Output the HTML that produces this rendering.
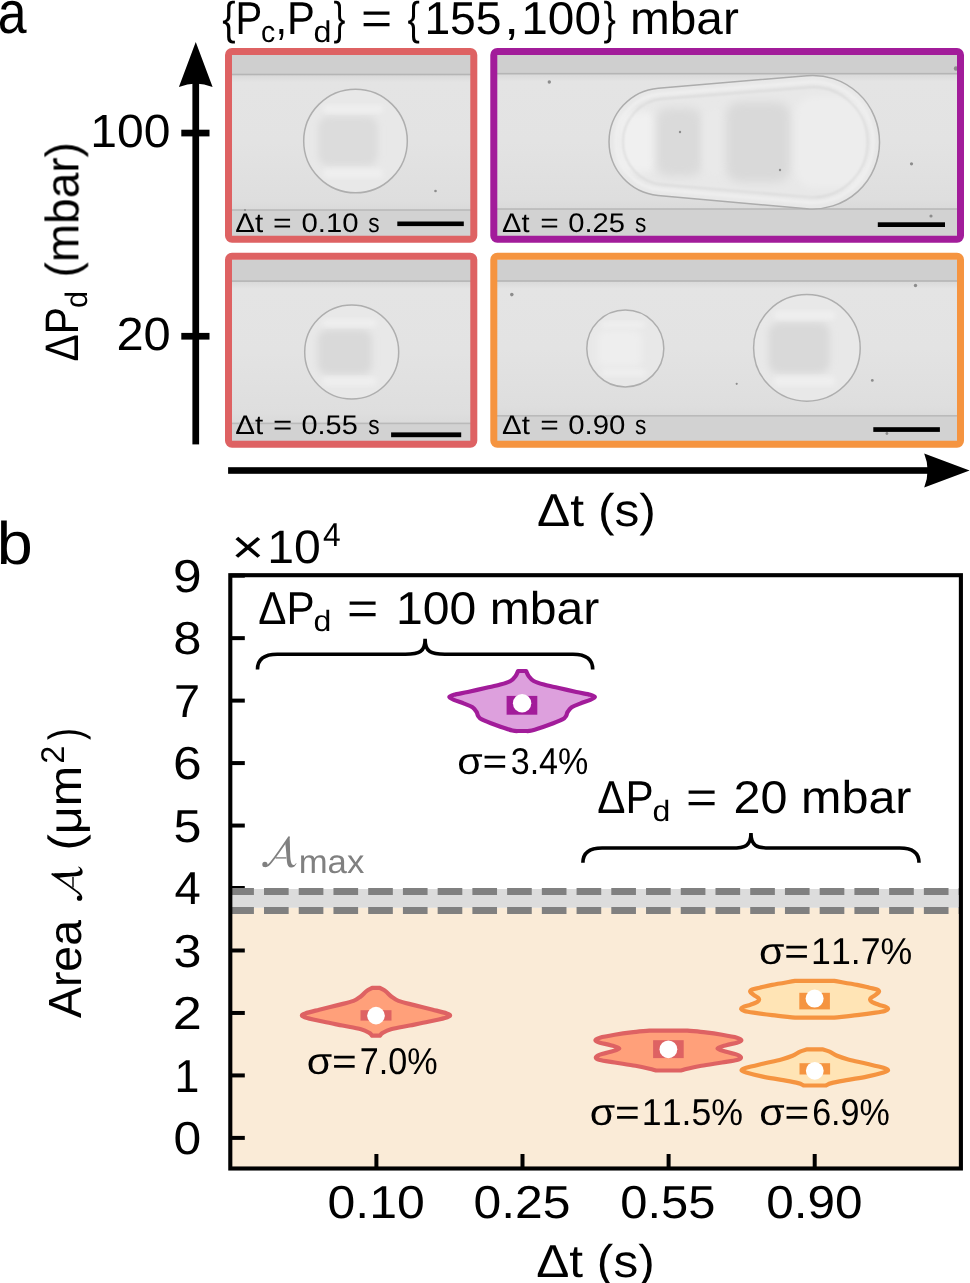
<!DOCTYPE html>
<html><head><meta charset="utf-8"><style>
html,body{margin:0;padding:0;background:#fff;}
svg{display:block;}
text{font-family:"Liberation Sans", sans-serif;-webkit-font-smoothing:antialiased;font-kerning:none;font-variant-ligatures:none;text-rendering:geometricPrecision;}
</style></head><body>
<svg width="970" height="1283" viewBox="0 0 970 1283">
<defs>
<filter id="blur2" x="-20%" y="-20%" width="140%" height="140%"><feGaussianBlur stdDeviation="2.5"/></filter>
<g id="calA">
<path stroke="none" d="M289.3,836.2 C289.9,838 290,845 290.1,852 C290.2,858 290.6,862.5 292.3,864.6 C293.6,865.6 295.2,864.6 296.1,862.9 L296.5,863.4 C295.6,865.6 293.6,867.6 291.2,867.6 C288.6,867.6 287.3,865.4 287,862 C286.6,857 286.0,848 285.2,843.8 Z"/>
<path fill="none" stroke-width="1.8" stroke-linecap="round" d="M288.9,837.2 C283,846 276,856 271.5,861.8 C269.5,864.6 267.5,866.3 265.3,866.3"/>
<circle stroke="none" cx="264.9" cy="864.4" r="2.6"/>
<path fill="none" stroke-width="1.4" d="M275.6,857.9 L286.4,857.9"/>
</g>
<filter id="blur6" x="-50%" y="-50%" width="200%" height="200%"><feGaussianBlur stdDeviation="6"/></filter>
<filter id="gs" x="0" y="0" width="100%" height="100%" filterUnits="userSpaceOnUse"><feColorMatrix type="saturate" values="0"/></filter>
<filter id="blur3" x="-30%" y="-30%" width="160%" height="160%"><feGaussianBlur stdDeviation="3.5"/></filter>
<filter id="blur05" x="-100%" y="-100%" width="300%" height="300%"><feGaussianBlur stdDeviation="0.5"/></filter>
<filter id="blur5" x="-50%" y="-50%" width="200%" height="200%"><feGaussianBlur stdDeviation="5"/></filter>
<filter id="blur1" x="-20%" y="-20%" width="140%" height="140%"><feGaussianBlur stdDeviation="1"/></filter>
</defs>
<rect width="970" height="1283" fill="#fff"/>
<clipPath id="c1"><rect x="232" y="55" width="239" height="181"/></clipPath>
<linearGradient id="g1" x1="0" y1="74.5" x2="0" y2="210" gradientUnits="userSpaceOnUse"><stop offset="0" stop-color="#D9D9D9"/><stop offset="0.059" stop-color="#E4E4E4"/><stop offset="0.5" stop-color="#E3E3E3"/><stop offset="0.93" stop-color="#DEDEDE"/><stop offset="1" stop-color="#DADADA"/></linearGradient>
<g clip-path="url(#c1)">
<rect x="232" y="55" width="239" height="181" fill="url(#g1)"/>
<rect x="232" y="55" width="239" height="19.5" fill="#CFCFCF"/>
<rect x="232" y="210" width="239" height="26" fill="#D2D2D2"/>
<rect x="232" y="73.7" width="239" height="1.6" fill="#B5B5B5"/>
<rect x="232" y="209.2" width="239" height="1.6" fill="#BABABA"/>
<circle cx="355.5" cy="141" r="51.8" fill="#E8E8E8" stroke="#AEAEAE" stroke-width="1.5"/>
<rect x="318.2" y="116.4" width="59.6" height="49.2" rx="10.4" fill="#DCDCDC" filter="url(#blur3)"/>
<rect x="323.4" y="105.0" width="59.6" height="8.3" rx="4.1" fill="#EFEFEF" filter="url(#blur2)"/>
<rect x="323.4" y="168.7" width="59.6" height="9.3" rx="4.1" fill="#EFEFEF" filter="url(#blur2)"/>
</g>
<clipPath id="c2"><rect x="497" y="55" width="460.5" height="181"/></clipPath>
<linearGradient id="g2" x1="0" y1="73.7" x2="0" y2="209" gradientUnits="userSpaceOnUse"><stop offset="0" stop-color="#D9D9D9"/><stop offset="0.059" stop-color="#E4E4E4"/><stop offset="0.5" stop-color="#E3E3E3"/><stop offset="0.93" stop-color="#DEDEDE"/><stop offset="1" stop-color="#DADADA"/></linearGradient>
<g clip-path="url(#c2)">
<rect x="497" y="55" width="460.5" height="181" fill="url(#g2)"/>
<rect x="497" y="55" width="460.5" height="18.700000000000003" fill="#CFCFCF"/>
<rect x="497" y="209" width="460.5" height="27" fill="#D2D2D2"/>
<rect x="497" y="72.9" width="460.5" height="1.6" fill="#B5B5B5"/>
<rect x="497" y="208.2" width="460.5" height="1.6" fill="#BABABA"/>
<path d="M658.28,88.19 L807.08,75.64 A66.8,66.8 0 1 1 806.73,208.73 L657.99,195.38 A53.8,53.8 0 0 1 658.28,88.19 Z" fill="#E8E8E8" stroke="#ACACAC" stroke-width="1.5"/>
<clipPath id="slugclip"><path d="M658.28,88.19 L807.08,75.64 A66.8,66.8 0 1 1 806.73,208.73 L657.99,195.38 A53.8,53.8 0 0 1 658.28,88.19 Z"/></clipPath>
<g clip-path="url(#slugclip)">
<rect x="618" y="112" width="40" height="60" rx="12" fill="#F0F0F0" filter="url(#blur3)"/>
<rect x="656" y="108" width="46" height="68" rx="12" fill="#DADADA" filter="url(#blur5)"/>
<rect x="704" y="110" width="22" height="64" rx="8" fill="#E9E9E9" filter="url(#blur3)"/>
<rect x="726" y="102" width="64" height="80" rx="14" fill="#D9D9D9" filter="url(#blur5)"/>
<rect x="795" y="96" width="72" height="92" rx="20" fill="#EDEDED" filter="url(#blur3)"/>
<path d="M660.09,93.96 L807.78,81.90 A60.5,60.5 0 1 1 807.45,202.47 L659.84,189.62 A48,48 0 0 1 660.09,93.96 Z" fill="none" stroke="#EFEFEF" stroke-width="3" filter="url(#blur1)"/>
<path d="M662.60,98.93 L808.35,87.37 A55,55 0 1 1 808.05,197.00 L662.37,184.65 A43,43 0 0 1 662.60,98.93 Z" fill="none" stroke="#D3D3D3" stroke-width="1.2" filter="url(#blur1)"/>
</g>
</g>
<clipPath id="c3"><rect x="232" y="259.5" width="239" height="181.5"/></clipPath>
<linearGradient id="g3" x1="0" y1="281.1" x2="0" y2="423.4" gradientUnits="userSpaceOnUse"><stop offset="0" stop-color="#D9D9D9"/><stop offset="0.056" stop-color="#E4E4E4"/><stop offset="0.5" stop-color="#E3E3E3"/><stop offset="0.93" stop-color="#DEDEDE"/><stop offset="1" stop-color="#DADADA"/></linearGradient>
<g clip-path="url(#c3)">
<rect x="232" y="259.5" width="239" height="181.5" fill="url(#g3)"/>
<rect x="232" y="259.5" width="239" height="21.600000000000023" fill="#CFCFCF"/>
<rect x="232" y="423.4" width="239" height="17.600000000000023" fill="#D2D2D2"/>
<rect x="232" y="280.3" width="239" height="1.6" fill="#B5B5B5"/>
<rect x="232" y="422.59999999999997" width="239" height="1.6" fill="#BABABA"/>
<circle cx="351.7" cy="352" r="47" fill="#E8E8E8" stroke="#AEAEAE" stroke-width="1.5"/>
<rect x="317.9" y="329.7" width="54.0" height="44.6" rx="9.4" fill="#D9D9D9" filter="url(#blur3)"/>
<rect x="322.6" y="319.3" width="54.0" height="7.5" rx="3.8" fill="#EFEFEF" filter="url(#blur2)"/>
<rect x="322.6" y="377.1" width="54.0" height="8.5" rx="3.8" fill="#EFEFEF" filter="url(#blur2)"/>
</g>
<clipPath id="c4"><rect x="497" y="259.5" width="460.5" height="181.5"/></clipPath>
<linearGradient id="g4" x1="0" y1="281" x2="0" y2="415.8" gradientUnits="userSpaceOnUse"><stop offset="0" stop-color="#D9D9D9"/><stop offset="0.059" stop-color="#E4E4E4"/><stop offset="0.5" stop-color="#E3E3E3"/><stop offset="0.93" stop-color="#DEDEDE"/><stop offset="1" stop-color="#DADADA"/></linearGradient>
<g clip-path="url(#c4)">
<rect x="497" y="259.5" width="460.5" height="181.5" fill="url(#g4)"/>
<rect x="497" y="259.5" width="460.5" height="21.5" fill="#CFCFCF"/>
<rect x="497" y="415.8" width="460.5" height="25.19999999999999" fill="#D2D2D2"/>
<rect x="497" y="280.2" width="460.5" height="1.6" fill="#B5B5B5"/>
<rect x="497" y="415.0" width="460.5" height="1.6" fill="#BABABA"/>
<circle cx="625.3" cy="348.4" r="38.5" fill="#E8E8E8" stroke="#AEAEAE" stroke-width="1.5"/>
<rect x="597.6" y="330.1" width="44.3" height="36.6" rx="7.7" fill="#EEEEEE" filter="url(#blur3)"/>
<rect x="601.4" y="321.6" width="44.3" height="6.2" rx="3.1" fill="#EFEFEF" filter="url(#blur2)"/>
<rect x="601.4" y="369.0" width="44.3" height="6.9" rx="3.1" fill="#EFEFEF" filter="url(#blur2)"/>
<circle cx="806.9" cy="347.9" r="53.3" fill="#E8E8E8" stroke="#AEAEAE" stroke-width="1.5"/>
<rect x="768.5" y="322.6" width="61.3" height="50.6" rx="10.7" fill="#D9D9D9" filter="url(#blur3)"/>
<rect x="773.9" y="310.9" width="61.3" height="8.5" rx="4.3" fill="#EFEFEF" filter="url(#blur2)"/>
<rect x="773.9" y="376.4" width="61.3" height="9.6" rx="4.3" fill="#EFEFEF" filter="url(#blur2)"/>
</g>
<circle cx="549.3" cy="82.0" r="1.7" fill="#8C8C8C" filter="url(#blur05)"/>
<circle cx="956" cy="68.5" r="2.2" fill="#8C8C8C" filter="url(#blur05)"/>
<circle cx="911.5" cy="163.8" r="1.6" fill="#8C8C8C" filter="url(#blur05)"/>
<circle cx="931" cy="216" r="1.6" fill="#8C8C8C" filter="url(#blur05)"/>
<circle cx="680" cy="132" r="1.2" fill="#8C8C8C" filter="url(#blur05)"/>
<circle cx="780" cy="170" r="1.2" fill="#8C8C8C" filter="url(#blur05)"/>
<circle cx="511.8" cy="294.6" r="1.8" fill="#8C8C8C" filter="url(#blur05)"/>
<circle cx="915.5" cy="285.5" r="1.7" fill="#8C8C8C" filter="url(#blur05)"/>
<circle cx="872.3" cy="380.4" r="1.4" fill="#8C8C8C" filter="url(#blur05)"/>
<circle cx="736.7" cy="383.8" r="1.1" fill="#8C8C8C" filter="url(#blur05)"/>
<circle cx="886.9" cy="433.5" r="1.4" fill="#8C8C8C" filter="url(#blur05)"/>
<circle cx="435.5" cy="191" r="1.3" fill="#8C8C8C" filter="url(#blur05)"/>
<circle cx="245" cy="210" r="1.0" fill="#8C8C8C" filter="url(#blur05)"/>
<rect x="228.5" y="51.5" width="245.30" height="187.70" rx="3.5" fill="none" stroke="#DE6263" stroke-width="7"/>
<rect x="493.8" y="51.5" width="466.70" height="187.70" rx="3.5" fill="none" stroke="#A21C9A" stroke-width="7"/>
<rect x="228.5" y="256.3" width="245.30" height="187.90" rx="3.5" fill="none" stroke="#DE6263" stroke-width="7"/>
<rect x="493.8" y="256.3" width="466.70" height="187.90" rx="3.5" fill="none" stroke="#F59440" stroke-width="7"/>
<rect x="397.3" y="221.5" width="66.5" height="4.6" fill="#000"/>
<rect x="877.8" y="222.3" width="67.2" height="4.7" fill="#000"/>
<rect x="391.1" y="432.4" width="70.1" height="4.8" fill="#000"/>
<rect x="873.3" y="427.2" width="66.6" height="4.7" fill="#000"/>
<rect x="192.4" y="80" width="6.7" height="364.4" fill="#000"/>
<path d="M195.75,42 L212.6,87 Q195.75,80 178.9,87 Z" fill="#000"/>
<rect x="181.3" y="129.7" width="28.2" height="6.7" fill="#000"/>
<rect x="181.3" y="332.9" width="28.2" height="6.7" fill="#000"/>
<rect x="228.1" y="467.2" width="700" height="6.6" fill="#000"/>
<path d="M969.6,470.5 L924.2,453.6 Q931,470.5 924.2,487.4 Z" fill="#000"/>
<rect x="230.3" y="907.8" width="730.5999999999999" height="260.70000000000005" fill="#FAEBD7"/>
<rect x="230.3" y="889" width="730.5999999999999" height="18.8" fill="#DCDCDC"/>
<line x1="230.3" y1="1137.90" x2="244.8" y2="1137.90" stroke="#000" stroke-width="4"/>
<line x1="230.3" y1="1075.43" x2="244.8" y2="1075.43" stroke="#000" stroke-width="4"/>
<line x1="230.3" y1="1012.96" x2="244.8" y2="1012.96" stroke="#000" stroke-width="4"/>
<line x1="230.3" y1="950.49" x2="244.8" y2="950.49" stroke="#000" stroke-width="4"/>
<line x1="230.3" y1="888.02" x2="244.8" y2="888.02" stroke="#000" stroke-width="4"/>
<line x1="230.3" y1="825.55" x2="244.8" y2="825.55" stroke="#000" stroke-width="4"/>
<line x1="230.3" y1="763.08" x2="244.8" y2="763.08" stroke="#000" stroke-width="4"/>
<line x1="230.3" y1="700.61" x2="244.8" y2="700.61" stroke="#000" stroke-width="4"/>
<line x1="230.3" y1="638.14" x2="244.8" y2="638.14" stroke="#000" stroke-width="4"/>
<line x1="230.3" y1="575.67" x2="244.8" y2="575.67" stroke="#000" stroke-width="4"/>
<line x1="376.40" y1="1168.5" x2="376.40" y2="1154.0" stroke="#000" stroke-width="4"/>
<line x1="522.50" y1="1168.5" x2="522.50" y2="1154.0" stroke="#000" stroke-width="4"/>
<line x1="668.60" y1="1168.5" x2="668.60" y2="1154.0" stroke="#000" stroke-width="4"/>
<line x1="814.70" y1="1168.5" x2="814.70" y2="1154.0" stroke="#000" stroke-width="4"/>
<line x1="229.27" y1="891.4" x2="960.9" y2="891.4" stroke="#808080" stroke-width="7" stroke-dasharray="24.65 10.08"/>
<line x1="229.27" y1="910.4" x2="960.9" y2="910.4" stroke="#808080" stroke-width="7" stroke-dasharray="24.65 10.08"/>
<rect x="230.3" y="575.2" width="730.5999999999999" height="593.3" fill="none" stroke="#000" stroke-width="4.1"/>
<path d="M257.5,669.5 C257.5,658.86 265.1,654.3 277.26000000000005,654.3 L405.34,654.3 C419.02,654.3 425.1,652.3 425.1,638.7 C425.1,652.3 431.18000000000006,654.3 444.86000000000007,654.3 L572.9399999999999,654.3 C585.1,654.3 592.7,658.86 592.7,669.5" fill="none" stroke="#000" stroke-width="3.6"/>
<path d="M582.9,862.8 C582.9,852.4399999999999 590.3,848.0 602.1399999999999,848.0 L731.7100000000002,848.0 C745.0300000000001,848.0 750.95,846.0 750.95,833.1 C750.95,846.0 756.87,848.0 770.1899999999999,848.0 L899.7600000000001,848.0 C911.6,848.0 919.0,852.4399999999999 919.0,862.8" fill="none" stroke="#000" stroke-width="3.6"/>
<path d="M518.10,671.00 C517.27,672.67 516.87,674.33 515.60,676.00 C514.33,677.67 513.05,679.57 510.50,681.00 C507.95,682.43 504.32,683.47 500.30,684.60 C496.28,685.73 491.82,686.57 486.40,687.80 C480.98,689.03 473.22,690.83 467.80,692.00 C462.38,693.17 456.98,693.95 453.90,694.80 C450.82,695.65 449.30,696.25 449.30,697.10 C449.30,697.95 451.43,698.82 453.90,699.90 C456.37,700.98 461.00,702.37 464.10,703.60 C467.20,704.83 470.42,705.90 472.50,707.30 C474.58,708.70 475.68,710.60 476.60,712.00 C477.52,713.40 477.13,714.47 478.00,715.70 C478.87,716.93 478.85,717.85 481.80,719.40 C484.75,720.95 490.60,723.15 495.70,725.00 C500.80,726.85 508.33,729.50 512.40,730.50 C516.47,731.50 517.53,730.83 520.10,731.00 L524.10,731.00 C526.67,730.83 527.73,731.50 531.80,730.50 C535.87,729.50 543.40,726.85 548.50,725.00 C553.60,723.15 559.45,720.95 562.40,719.40 C565.35,717.85 565.33,716.93 566.20,715.70 C567.07,714.47 566.68,713.40 567.60,712.00 C568.52,710.60 569.62,708.70 571.70,707.30 C573.78,705.90 577.00,704.83 580.10,703.60 C583.20,702.37 587.83,700.98 590.30,699.90 C592.77,698.82 594.90,697.95 594.90,697.10 C594.90,696.25 593.38,695.65 590.30,694.80 C587.22,693.95 581.82,693.17 576.40,692.00 C570.98,690.83 563.22,689.03 557.80,687.80 C552.38,686.57 547.92,685.73 543.90,684.60 C539.88,683.47 536.25,682.43 533.70,681.00 C531.15,679.57 529.87,677.67 528.60,676.00 C527.33,674.33 526.93,672.67 526.10,671.00 Z" fill="#DDA0DD" stroke="#A21C9A" stroke-width="4.2" stroke-linejoin="round"/>
<rect x="506.6" y="695.9" width="30.70" height="18.80" fill="#A21C9A"/>
<circle cx="522.1" cy="703.3" r="9.2" fill="#fff"/>
<path d="M372.10,987.90 C370.23,988.97 368.35,989.72 366.50,991.10 C364.65,992.48 363.17,994.57 361.00,996.20 C358.83,997.83 357.37,999.42 353.50,1000.90 C349.63,1002.38 343.52,1003.63 337.80,1005.10 C332.08,1006.57 324.62,1008.32 319.20,1009.70 C313.78,1011.08 308.17,1012.40 305.30,1013.40 C302.43,1014.40 301.70,1014.93 302.00,1015.70 C302.30,1016.47 303.47,1016.98 307.10,1018.00 C310.73,1019.02 317.92,1020.55 323.80,1021.80 C329.68,1023.05 336.20,1024.27 342.40,1025.50 C348.60,1026.73 356.52,1027.97 361.00,1029.20 C365.48,1030.43 367.45,1031.82 369.30,1032.90 C371.15,1033.98 371.17,1034.77 372.10,1035.70 L379.90,1035.70 C380.83,1034.77 380.85,1033.98 382.70,1032.90 C384.55,1031.82 386.52,1030.43 391.00,1029.20 C395.48,1027.97 403.40,1026.73 409.60,1025.50 C415.80,1024.27 422.32,1023.05 428.20,1021.80 C434.08,1020.55 441.27,1019.02 444.90,1018.00 C448.53,1016.98 449.70,1016.47 450.00,1015.70 C450.30,1014.93 449.57,1014.40 446.70,1013.40 C443.83,1012.40 438.22,1011.08 432.80,1009.70 C427.38,1008.32 419.92,1006.57 414.20,1005.10 C408.48,1003.63 402.37,1002.38 398.50,1000.90 C394.63,999.42 393.17,997.83 391.00,996.20 C388.83,994.57 387.35,992.48 385.50,991.10 C383.65,989.72 381.77,988.97 379.90,987.90 Z" fill="#FFA07A" stroke="#DE6263" stroke-width="4.2" stroke-linejoin="round"/>
<rect x="360.5" y="1010.2" width="31.00" height="10.40" fill="#DE6263"/>
<circle cx="376.0" cy="1015.6" r="8.8" fill="#fff"/>
<path d="M649.40,1030.60 C643.33,1031.20 636.98,1031.70 631.20,1032.40 C625.42,1033.10 619.92,1033.92 614.70,1034.80 C609.48,1035.68 603.12,1036.80 599.90,1037.70 C596.68,1038.60 595.40,1039.37 595.40,1040.20 C595.40,1041.03 597.37,1041.87 599.90,1042.70 C602.43,1043.53 607.37,1044.23 610.60,1045.20 C613.83,1046.17 619.30,1047.40 619.30,1048.50 C619.30,1049.60 613.83,1050.78 610.60,1051.80 C607.37,1052.82 602.37,1053.65 599.90,1054.60 C597.43,1055.55 595.80,1056.60 595.80,1057.50 C595.80,1058.40 596.75,1059.17 599.90,1060.00 C603.05,1060.83 608.78,1061.53 614.70,1062.50 C620.62,1063.47 629.62,1064.77 635.40,1065.80 C641.18,1066.83 645.97,1067.92 649.40,1068.70 C652.83,1069.48 653.80,1069.90 656.00,1070.50 L680.80,1070.50 C683.00,1069.90 683.97,1069.48 687.40,1068.70 C690.83,1067.92 695.62,1066.83 701.40,1065.80 C707.18,1064.77 716.18,1063.47 722.10,1062.50 C728.02,1061.53 733.75,1060.83 736.90,1060.00 C740.05,1059.17 741.00,1058.40 741.00,1057.50 C741.00,1056.60 739.37,1055.55 736.90,1054.60 C734.43,1053.65 729.43,1052.82 726.20,1051.80 C722.97,1050.78 717.50,1049.60 717.50,1048.50 C717.50,1047.40 722.97,1046.17 726.20,1045.20 C729.43,1044.23 734.37,1043.53 736.90,1042.70 C739.43,1041.87 741.40,1041.03 741.40,1040.20 C741.40,1039.37 740.12,1038.60 736.90,1037.70 C733.68,1036.80 727.32,1035.68 722.10,1034.80 C716.88,1033.92 711.38,1033.10 705.60,1032.40 C699.82,1031.70 693.47,1031.20 687.40,1030.60 Z" fill="#FFA07A" stroke="#DE6263" stroke-width="4.2" stroke-linejoin="round"/>
<rect x="653.1" y="1040.2" width="30.60" height="17.90" fill="#DE6263"/>
<circle cx="668.4" cy="1049.3" r="8.9" fill="#fff"/>
<path d="M795.00,980.90 C787.37,982.23 777.98,983.77 772.10,984.90 C766.22,986.03 763.00,986.93 759.70,987.70 C756.40,988.47 753.88,988.83 752.30,989.50 C750.72,990.17 749.98,990.82 750.20,991.70 C750.42,992.58 752.32,993.82 753.60,994.80 C754.88,995.78 756.98,996.78 757.90,997.60 C758.82,998.42 759.20,998.98 759.10,999.70 C759.00,1000.42 758.73,1001.07 757.30,1001.90 C755.87,1002.73 752.88,1003.82 750.50,1004.70 C748.12,1005.58 744.55,1006.48 743.00,1007.20 C741.45,1007.92 740.98,1008.38 741.20,1009.00 C741.42,1009.62 742.23,1010.28 744.30,1010.90 C746.37,1011.52 748.97,1011.98 753.60,1012.70 C758.23,1013.42 765.20,1014.37 772.10,1015.20 C779.00,1016.03 787.37,1016.87 795.00,1017.70 L834.20,1017.70 C841.83,1016.87 850.20,1016.03 857.10,1015.20 C864.00,1014.37 870.97,1013.42 875.60,1012.70 C880.23,1011.98 882.83,1011.52 884.90,1010.90 C886.97,1010.28 887.78,1009.62 888.00,1009.00 C888.22,1008.38 887.75,1007.92 886.20,1007.20 C884.65,1006.48 881.08,1005.58 878.70,1004.70 C876.32,1003.82 873.33,1002.73 871.90,1001.90 C870.47,1001.07 870.20,1000.42 870.10,999.70 C870.00,998.98 870.38,998.42 871.30,997.60 C872.22,996.78 874.32,995.78 875.60,994.80 C876.88,993.82 878.78,992.58 879.00,991.70 C879.22,990.82 878.48,990.17 876.90,989.50 C875.32,988.83 872.80,988.47 869.50,987.70 C866.20,986.93 862.98,986.03 857.10,984.90 C851.22,983.77 841.83,982.23 834.20,980.90 Z" fill="#FFE4B5" stroke="#F59440" stroke-width="4.2" stroke-linejoin="round"/>
<rect x="799.3" y="992.8" width="30.60" height="16.60" fill="#F59440"/>
<circle cx="814.6" cy="998.6" r="9.0" fill="#fff"/>
<path d="M807.40,1049.30 C804.93,1050.07 802.48,1050.52 800.00,1051.60 C797.52,1052.68 795.60,1054.48 792.50,1055.80 C789.40,1057.12 786.35,1058.18 781.40,1059.50 C776.45,1060.82 768.68,1062.32 762.80,1063.70 C756.92,1065.08 749.65,1066.72 746.10,1067.80 C742.55,1068.88 741.50,1069.42 741.50,1070.20 C741.50,1070.98 742.55,1071.43 746.10,1072.50 C749.65,1073.57 756.92,1075.37 762.80,1076.60 C768.68,1077.83 775.52,1078.82 781.40,1079.90 C787.28,1080.98 794.38,1082.17 798.10,1083.10 C801.82,1084.03 801.83,1084.70 803.70,1085.50 L825.90,1085.50 C827.77,1084.70 827.78,1084.03 831.50,1083.10 C835.22,1082.17 842.32,1080.98 848.20,1079.90 C854.08,1078.82 860.92,1077.83 866.80,1076.60 C872.68,1075.37 879.95,1073.57 883.50,1072.50 C887.05,1071.43 888.10,1070.98 888.10,1070.20 C888.10,1069.42 887.05,1068.88 883.50,1067.80 C879.95,1066.72 872.68,1065.08 866.80,1063.70 C860.92,1062.32 853.15,1060.82 848.20,1059.50 C843.25,1058.18 840.20,1057.12 837.10,1055.80 C834.00,1054.48 832.08,1052.68 829.60,1051.60 C827.12,1050.52 824.67,1050.07 822.20,1049.30 Z" fill="#FFE4B5" stroke="#F59440" stroke-width="4.2" stroke-linejoin="round"/>
<rect x="799.5" y="1063.2" width="30.60" height="11.30" fill="#F59440"/>
<circle cx="814.8" cy="1070.8" r="8.9" fill="#fff"/>
<use href="#calA" fill="#808080" stroke="#808080"/>
<use href="#calA" transform="translate(51.3,900.7) rotate(-90) translate(-262.4,-836.2)" fill="#000" stroke="#000"/>
<g filter="url(#gs)"><text transform="translate(-2.20,32.80) scale(0.8631,1)" font-size="60" fill="#000" >a</text>
<text transform="translate(222.24,33.90) scale(0.8704,1)" font-size="46" fill="#000" >{P</text>
<text transform="translate(260.99,42.30) scale(0.9509,1)" font-size="30" fill="#000" >c</text>
<text transform="translate(275.45,33.90) scale(0.9078,1)" font-size="46" fill="#000" >,P</text>
<text transform="translate(313.45,42.30) scale(1.0748,1)" font-size="30" fill="#000" >d</text>
<text transform="translate(333.51,33.90) scale(0.7771,1)" font-size="46" fill="#000" >}</text>
<text transform="translate(361.10,33.90) scale(1.1589,1)" font-size="46" fill="#000" >=</text>
<text transform="translate(407.49,33.90) scale(0.8049,1)" font-size="46" fill="#000" >{</text>
<text transform="translate(424.38,33.90) scale(1.0054,1)" font-size="46" fill="#000" >155</text>
<text transform="translate(504.35,33.90) scale(1.1500,1)" font-size="46" fill="#000">,</text>
<text transform="translate(521.26,33.90) scale(1.0385,1)" font-size="46" fill="#000" >100</text>
<text transform="translate(603.48,33.90) scale(0.8062,1)" font-size="46" fill="#000" >}</text>
<text transform="translate(630.03,33.90) scale(1.0378,1)" font-size="46" fill="#000" >mbar</text>
<text transform="translate(90.24,146.80) scale(1.0329,1)" font-size="46.5" fill="#000" >100</text>
<text transform="translate(116.44,349.70) scale(1.0511,1)" font-size="46.5" fill="#000" >20</text>
<text transform="translate(537.02,526.20) scale(1.0814,1)" font-size="46" fill="#000" >Δt (s)</text>
<text transform="translate(235.22,232.40) scale(1.1046,1)" font-size="26.8" fill="#000" >Δt</text>
<text transform="translate(273.04,232.40) scale(1.1904,1)" font-size="26.8" fill="#000" >=</text>
<text transform="translate(301.45,232.40) scale(1.0945,1)" font-size="26.8" fill="#000" >0.10</text>
<text transform="translate(368.27,232.40) scale(0.8472,1)" font-size="26.8" fill="#000" >s</text>
<text transform="translate(502.03,232.40) scale(1.0841,1)" font-size="26.8" fill="#000" >Δt</text>
<text transform="translate(540.15,232.40) scale(1.1827,1)" font-size="26.8" fill="#000" >=</text>
<text transform="translate(568.16,232.40) scale(1.0883,1)" font-size="26.8" fill="#000" >0.25</text>
<text transform="translate(635.07,232.40) scale(0.8472,1)" font-size="26.8" fill="#000" >s</text>
<text transform="translate(235.22,434.40) scale(1.1046,1)" font-size="26.8" fill="#000" >Δt</text>
<text transform="translate(272.99,434.40) scale(1.2288,1)" font-size="26.8" fill="#000" >=</text>
<text transform="translate(301.47,434.40) scale(1.0783,1)" font-size="26.8" fill="#000" >0.55</text>
<text transform="translate(368.27,434.40) scale(0.8472,1)" font-size="26.8" fill="#000" >s</text>
<text transform="translate(502.02,434.40) scale(1.1005,1)" font-size="26.8" fill="#000" >Δt</text>
<text transform="translate(540.15,434.40) scale(1.1827,1)" font-size="26.8" fill="#000" >=</text>
<text transform="translate(568.15,434.40) scale(1.0965,1)" font-size="26.8" fill="#000" >0.90</text>
<text transform="translate(635.07,434.40) scale(0.8472,1)" font-size="26.8" fill="#000" >s</text>
<text transform="translate(78.00,361.62) rotate(-90) scale(0.8681,1)" font-size="47" fill="#000">ΔP</text>
<text transform="translate(86.80,308.09) rotate(-90) scale(0.9899,1)" font-size="31" fill="#000">d</text>
<text transform="translate(78.40,277.45) rotate(-90) scale(0.9777,1)" font-size="47" fill="#000">(mbar)</text>
<text transform="translate(-3.17,563.90) scale(1.0785,1)" font-size="60" fill="#000" >b</text>
<text transform="translate(231.43,562.50) scale(1.1884,1)" font-size="47" fill="#000" >×</text>
<text transform="translate(267.23,562.50) scale(1.0243,1)" font-size="47" fill="#000" >10</text>
<text transform="translate(322.97,545.50) scale(0.9622,1)" font-size="33" fill="#000" >4</text>
<text transform="translate(173.56,1154.20) scale(1.0777,1)" font-size="46.2" fill="#000" >0</text>
<text transform="translate(174.49,1091.73) scale(0.9689,1)" font-size="46.2" fill="#000" >1</text>
<text transform="translate(172.87,1029.26) scale(1.1308,1)" font-size="46.2" fill="#000" >2</text>
<text transform="translate(173.59,966.79) scale(1.0865,1)" font-size="46.2" fill="#000" >3</text>
<text transform="translate(174.42,904.32) scale(1.0223,1)" font-size="46.2" fill="#000" >4</text>
<text transform="translate(173.49,841.85) scale(1.0865,1)" font-size="46.2" fill="#000" >5</text>
<text transform="translate(172.88,779.38) scale(1.1164,1)" font-size="46.2" fill="#000" >6</text>
<text transform="translate(174.00,716.91) scale(1.0142,1)" font-size="46.2" fill="#000" >7</text>
<text transform="translate(173.30,654.44) scale(1.0978,1)" font-size="46.2" fill="#000" >8</text>
<text transform="translate(173.08,591.97) scale(1.1153,1)" font-size="46.2" fill="#000" >9</text>
<text transform="translate(327.55,1218.00) scale(1.0822,1)" font-size="46.2" fill="#000" >0.10</text>
<text transform="translate(473.55,1218.00) scale(1.0792,1)" font-size="46.2" fill="#000" >0.25</text>
<text transform="translate(620.29,1218.00) scale(1.0572,1)" font-size="46.2" fill="#000" >0.55</text>
<text transform="translate(766.27,1218.00) scale(1.0717,1)" font-size="46.2" fill="#000" >0.90</text>
<text transform="translate(536.22,1276.70) scale(1.0776,1)" font-size="46" fill="#000" >Δt (s)</text>
<text transform="translate(258.34,623.50) scale(0.9182,1)" font-size="46" fill="#000" >ΔP</text>
<text transform="translate(313.46,631.00) scale(1.0855,1)" font-size="29.5" fill="#000" >d</text>
<text transform="translate(346.99,623.50) scale(1.1634,1)" font-size="46" fill="#000" >=</text>
<text transform="translate(396.04,623.50) scale(1.0460,1)" font-size="46" fill="#000" >100 mbar</text>
<text transform="translate(597.34,813.00) scale(0.9182,1)" font-size="46" fill="#000" >ΔP</text>
<text transform="translate(652.46,821.00) scale(1.0855,1)" font-size="29.5" fill="#000" >d</text>
<text transform="translate(685.99,813.00) scale(1.1634,1)" font-size="46" fill="#000" >=</text>
<text transform="translate(733.56,813.00) scale(1.0545,1)" font-size="46" fill="#000" >20 mbar</text>
<text transform="translate(457.27,774.00) scale(1.1058,1)" font-size="37.3" fill="#000" >σ</text>
<text transform="translate(482.53,774.00) scale(1.1368,1)" font-size="37.3" fill="#000" >=</text>
<text transform="translate(510.70,774.00) scale(0.9129,1)" font-size="37.3" fill="#000" >3.4%</text>
<text transform="translate(306.67,1074.40) scale(1.1058,1)" font-size="37.3" fill="#000" >σ</text>
<text transform="translate(331.93,1074.40) scale(1.1368,1)" font-size="37.3" fill="#000" >=</text>
<text transform="translate(359.65,1074.40) scale(0.9159,1)" font-size="37.3" fill="#000" >7.0%</text>
<text transform="translate(759.07,963.60) scale(1.1058,1)" font-size="37.3" fill="#000" >σ</text>
<text transform="translate(784.33,963.60) scale(1.1368,1)" font-size="37.3" fill="#000" >=</text>
<text transform="translate(811.08,963.60) scale(0.9558,1)" font-size="37.3" fill="#000" >11.7%</text>
<text transform="translate(589.77,1124.50) scale(1.1058,1)" font-size="37.3" fill="#000" >σ</text>
<text transform="translate(615.03,1124.50) scale(1.1368,1)" font-size="37.3" fill="#000" >=</text>
<text transform="translate(641.78,1124.50) scale(0.9568,1)" font-size="37.3" fill="#000" >11.5%</text>
<text transform="translate(759.17,1124.50) scale(1.1058,1)" font-size="37.3" fill="#000" >σ</text>
<text transform="translate(784.43,1124.50) scale(1.1368,1)" font-size="37.3" fill="#000" >=</text>
<text transform="translate(812.17,1124.50) scale(0.9133,1)" font-size="37.3" fill="#000" >6.9%</text>
<text transform="translate(298.69,873.30) scale(1.0519,1)" font-size="33" fill="#808080" >max</text>
<text transform="translate(81.00,1017.99) rotate(-90) scale(0.9966,1)" font-size="46.5" fill="#000">Area</text>
<text transform="translate(80.90,850.42) rotate(-90) scale(1.0458,1)" font-size="46.5" fill="#000">(μm</text>
<text transform="translate(64.10,763.73) rotate(-90) scale(0.9905,1)" font-size="32.8" fill="#000">2</text>
<text transform="translate(80.90,740.01) rotate(-90) scale(0.7705,1)" font-size="46.5" fill="#000">)</text></g>
</svg></body></html>
